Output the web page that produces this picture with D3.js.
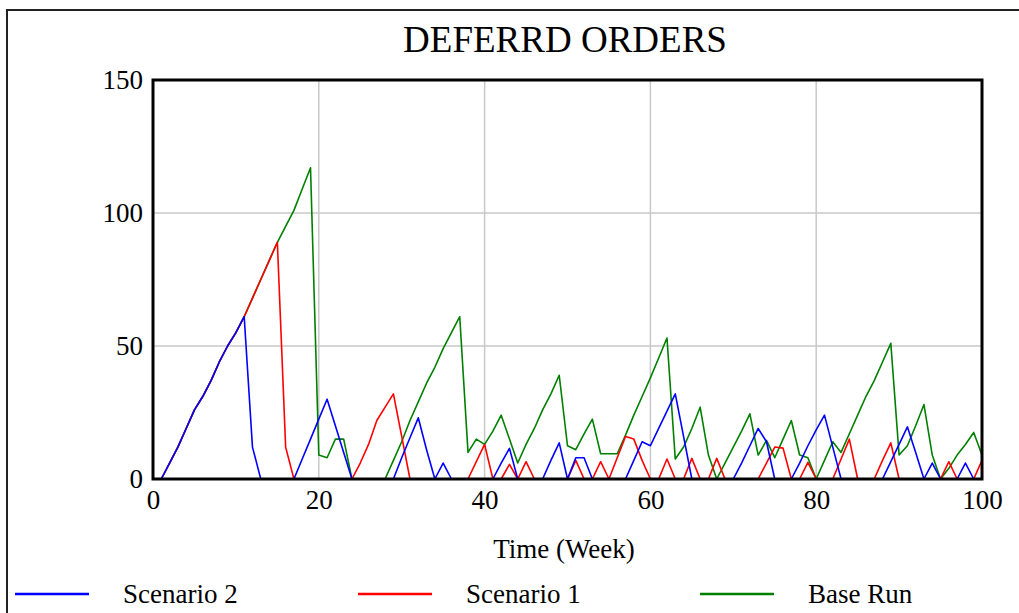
<!DOCTYPE html>
<html>
<head>
<meta charset="utf-8">
<script src="https://cdn.jsdelivr.net/npm/d3@7"></script>
<style>
  body { margin: 0; background: #fff; }
  svg { display: block; font-family: "Liberation Serif", "Times New Roman", serif; }
</style>
</head>
<body>
<div id="chart"></div>
<script>
// weeks 0..100
const weeks = d3.range(0, 101);

const baseRun = [
  0, 0, 6, 12, 19, 26, 31, 37, 44, 50,
  55, 61, 68, 75, 82, 89, 95, 101, 109, 117,
  9, 8, 15, 15, 0, 0, 0, 0, 0, 7,
  14, 22, 29, 36, 42, 49, 55, 61, 10, 15,
  13, 18, 24, 15, 6, 13, 19, 26, 32, 39,
  12.5, 11, 17, 22.5, 9.5, 9.5, 9.5, 16.5, 24, 31,
  38, 45.5, 53, 7.5, 12, 19, 27, 9, 0, 6,
  12, 18, 24.5, 9, 14.5, 8, 15, 22, 9, 8,
  0, 7, 14, 10, 17, 24, 31, 37, 44, 51,
  9, 12.5, 20, 28, 9, 0, 4, 9, 13, 17.5,
  9
];

const scenario1 = [
  0, 0, 6, 12, 19, 26, 31, 37, 44, 50,
  55, 61, 68, 75, 82, 89, 12, 0, 0, 0,
  0, 0, 0, 0, 0, 6, 13, 22, 27, 32,
  16, 0, 0, 0, 0, 0, 0, 0, 0, 6.5,
  13, 0, 0, 5.5, 0, 6.5, 0, 0, 0, 0,
  0, 7, 0, 0, 6.5, 0, 8, 16, 15, 7,
  0, 0, 7.5, 0, 0, 7.75, 0, 0, 7.75, 0,
  0, 0, 0, 0, 6, 12, 11.6, 0, 0, 6.25,
  0, 0, 0, 7.5, 15, 0, 0, 0, 7, 13.6,
  0, 0, 0, 0, 0, 0, 6.5, 0, 0, 0,
  7
];

const scenario2 = [
  0, 0, 6, 12, 19, 26, 31, 37, 44, 50,
  55, 61, 12, 0, 0, 0, 0, 0, 7.5, 15,
  22.5, 30, 20, 10, 0, 0, 0, 0, 0, 0,
  8, 15.5, 23, 11, 0, 6, 0, 0, 0, 0,
  0, 0, 6, 11.5, 0, 0, 0, 0, 7, 13.6,
  0, 8, 8, 0, 0, 0, 0, 0, 7, 14,
  12.5, 19, 25.5, 32, 16, 0, 0, 0, 0, 0,
  0, 6, 12.5, 19, 14, 0, 0, 0, 6, 12.5,
  18.5, 24, 12, 0, 0, 0, 0, 0, 0, 6.5,
  13, 19.6, 10, 0, 6, 0, 0, 0, 6, 0,
  0
];

const seriesNames = ["Scenario 2", "Scenario 1", "Base Run"];
const seriesColors = ["#0000ff", "#ff0000", "#008000"];
const xTicks = [0, 20, 40, 60, 80, 100];
const yTicks = [0, 50, 100, 150];

const W = 1019, H = 613;
const margin = { top: 80, right: 37, bottom: 134, left: 153 };
const width = W - margin.left - margin.right;
const height = H - margin.top - margin.bottom;

const svg = d3.select("#chart").append("svg")
  .attr("width", W)
  .attr("height", H);

// outer frame (left + top only)
svg.append("path")
  .attr("d", `M7,${H} L7,10 L${W},10`)
  .attr("fill", "none")
  .attr("stroke", "#222")
  .attr("stroke-width", 2);

svg.append("text")
  .attr("x", 565)
  .attr("y", 52)
  .attr("text-anchor", "middle")
  .style("font-size", "37px")
  .text("DEFERRD ORDERS");

const g = svg.append("g")
  .attr("transform", `translate(${margin.left},${margin.top})`);

const x = d3.scaleLinear().domain([0, 100]).range([0, width]);
const y = d3.scaleLinear().domain([0, 150]).range([height, 0]);

// grid
g.append("g")
  .selectAll("line")
  .data(xTicks.slice(1, -1))
  .join("line")
  .attr("x1", d => x(d)).attr("x2", d => x(d))
  .attr("y1", 0).attr("y2", height)
  .attr("stroke", "#c8c8c8")
  .attr("stroke-width", 1.5);

g.append("g")
  .selectAll("line")
  .data(yTicks.slice(1, -1))
  .join("line")
  .attr("x1", 0).attr("x2", width)
  .attr("y1", d => y(d)).attr("y2", d => y(d))
  .attr("stroke", "#c8c8c8")
  .attr("stroke-width", 1.5);

// axes (labels only)
const xAxis = g.append("g")
  .attr("transform", `translate(0,${height})`)
  .call(d3.axisBottom(x).tickValues(xTicks).tickSize(0).tickPadding(11));
xAxis.select(".domain").remove();
xAxis.selectAll("text")
  .style("font-family", "Liberation Serif, serif")
  .style("font-size", "27px")
  .attr("fill", "#000");

const yAxis = g.append("g")
  .call(d3.axisLeft(y).tickValues(yTicks).tickSize(0).tickPadding(10));
yAxis.select(".domain").remove();
yAxis.selectAll("text")
  .style("font-family", "Liberation Serif, serif")
  .style("font-size", "27px")
  .attr("fill", "#000");

// lines
const line = d3.line()
  .x((d, i) => x(weeks[i]))
  .y(d => y(d));

const data = [baseRun, scenario1, scenario2];
const colors = [seriesColors[2], seriesColors[1], seriesColors[0]];

g.selectAll(".series")
  .data(data)
  .join("path")
  .attr("class", "series")
  .attr("d", line)
  .attr("fill", "none")
  .attr("stroke", (d, i) => colors[i])
  .attr("stroke-width", 1.6)
  .attr("stroke-linejoin", "round");

// plot frame
g.append("rect")
  .attr("x", 0).attr("y", 0)
  .attr("width", width).attr("height", height)
  .attr("fill", "none")
  .attr("stroke", "#000")
  .attr("stroke-width", 3);

// x label
svg.append("text")
  .attr("x", 564)
  .attr("y", 558)
  .attr("text-anchor", "middle")
  .style("font-size", "27px")
  .text("Time (Week)");

// legend
const legendX = [15, 358, 700];
const legend = svg.selectAll(".legend")
  .data(seriesNames)
  .join("g")
  .attr("class", "legend")
  .attr("transform", (d, i) => `translate(${legendX[i]},594)`);

legend.append("line")
  .attr("x1", 0).attr("x2", 74)
  .attr("y1", 0).attr("y2", 0)
  .attr("stroke", (d, i) => seriesColors[i])
  .attr("stroke-width", 2.5);

legend.append("text")
  .attr("x", 108)
  .attr("y", 9)
  .style("font-size", "27px")
  .text(d => d);
</script>
</body>
</html>
